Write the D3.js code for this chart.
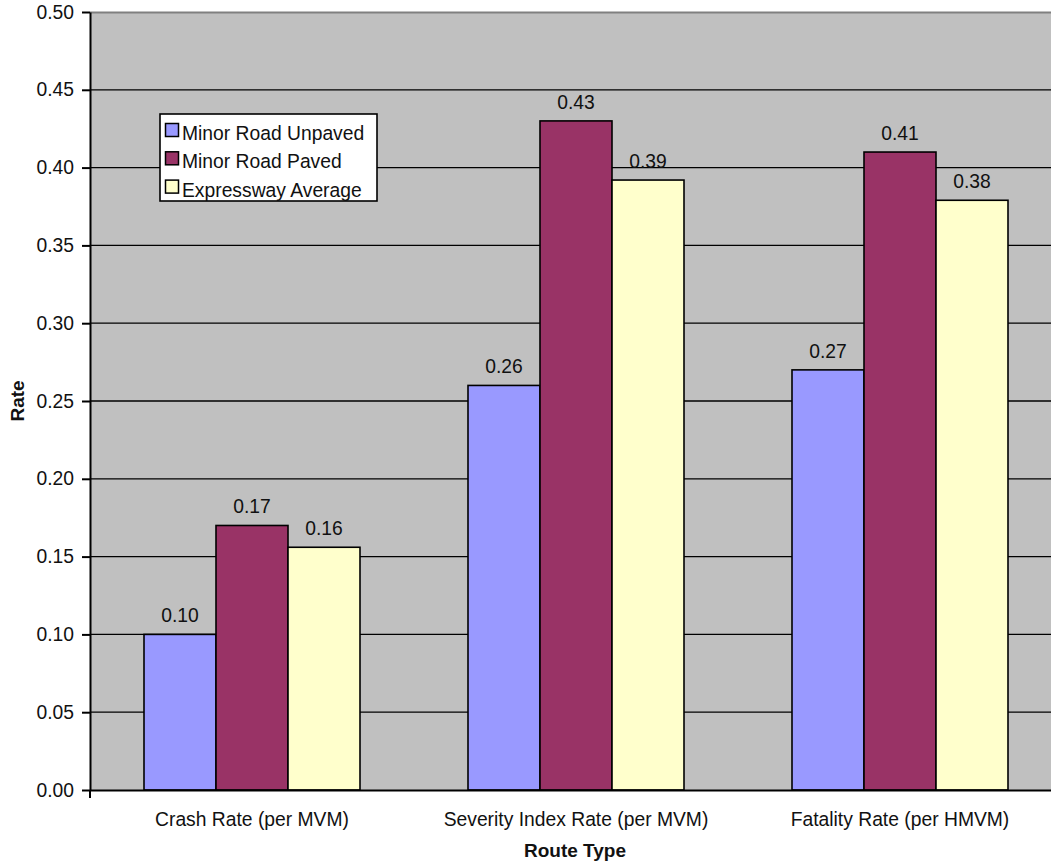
<!DOCTYPE html>
<html><head><meta charset="utf-8">
<script src="https://cdn.jsdelivr.net/npm/d3@7/dist/d3.min.js"></script>
<style>body{margin:0;background:#fff;} svg{display:block;font-family:Arial,"Liberation Sans",sans-serif;}</style>
</head><body>
<script>
const categories = ["Crash Rate (per MVM)", "Severity Index Rate (per MVM)", "Fatality Rate (per HMVM)"];
const seriesNames = ["Minor Road Unpaved", "Minor Road Paved", "Expressway Average"];
const unpaved = [0.10, 0.26, 0.27];
const paved = [0.17, 0.43, 0.41];
const expressway = [0.156, 0.392, 0.379];
const yTicks = [0, 0.05, 0.10, 0.15, 0.20, 0.25, 0.30, 0.35, 0.40, 0.45, 0.50];
const colors = ["#9999FF", "#993366", "#FFFFCC"];
const seriesValues = [unpaved, paved, expressway];

const FONT = "Arial, 'Liberation Sans', sans-serif";
const FS = 19.3;
const W = 1051, H = 865;
const m = {left: 90, top: 12, right: -11, bottom: 75};
const svg = d3.select("body").append("svg").attr("width", W).attr("height", H);
const pw = W - m.left - m.right, ph = H - m.top - m.bottom;
const g = svg.append("g").attr("transform", `translate(${m.left},${m.top})`);

const x0 = d3.scaleBand().domain(categories).range([0, pw]).paddingInner(1/3).paddingOuter(1/6);
const x1 = d3.scaleBand().domain(seriesNames).range([0, x0.bandwidth()]);
const y = d3.scaleLinear().domain([0, 0.5]).range([ph, 0]);

g.append("rect").attr("width", pw).attr("height", ph).attr("fill", "#C0C0C0");
g.append("line").attr("x1", 0).attr("x2", pw).attr("y1", 0.5).attr("y2", 0.5).attr("stroke", "#808080").attr("stroke-width", 2);

g.selectAll(".grid").data(yTicks.filter(t => t > 0 && t < 0.5)).join("line")
  .attr("x1", 0).attr("x2", pw).attr("y1", d => y(d)).attr("y2", d => y(d))
  .attr("stroke", "#000").attr("stroke-width", 1.3);

const data = [];
categories.forEach((c, i) => seriesNames.forEach((s, j) => data.push({c, s, j, v: seriesValues[j][i]})));

g.selectAll(".bar").data(data).join("rect")
  .attr("x", d => x0(d.c) + x1(d.s)).attr("width", x1.bandwidth())
  .attr("y", d => y(d.v)).attr("height", d => ph - y(d.v))
  .attr("fill", d => colors[d.j]).attr("stroke", "#000").attr("stroke-width", 1.6);

g.selectAll(".lbl").data(data).join("text")
  .attr("x", d => x0(d.c) + x1(d.s) + x1.bandwidth()/2).attr("y", d => y(d.v) - 12)
  .attr("text-anchor", "middle").attr("font-size", FS).attr("fill", "#111")
  .text(d => d3.format(".2f")(d.v));

const yAxis = g.append("g").call(d3.axisLeft(y).tickValues(yTicks).tickFormat(d3.format(".2f")).tickSize(8).tickSizeOuter(0));
yAxis.select(".domain").attr("stroke", "#000").attr("stroke-width", 2);
yAxis.selectAll(".tick line").attr("stroke", "#000").attr("stroke-width", 2);
yAxis.selectAll("text").attr("font-size", FS).attr("fill", "#111").attr("x", -16).attr("font-family", FONT);

const xAxis = g.append("g").attr("transform", `translate(0,${ph})`).call(d3.axisBottom(x0).tickSize(0).tickSizeOuter(0));
xAxis.select(".domain").attr("stroke", "#000").attr("stroke-width", 2);
xAxis.selectAll("text").attr("font-size", FS).attr("fill", "#111").attr("dy", 0).attr("y", 36).attr("font-family", FONT);
g.append("line").attr("x1", 0).attr("x2", 0).attr("y1", ph).attr("y2", ph + 8).attr("stroke", "#000").attr("stroke-width", 2);

svg.append("text").attr("transform", "translate(24,401) rotate(-90)").attr("text-anchor", "middle")
  .attr("font-size", 19).attr("font-weight", "bold").attr("fill", "#111").text("Rate");
svg.append("text").attr("x", 575).attr("y", 857).attr("text-anchor", "middle")
  .attr("font-size", 19).attr("font-weight", "bold").attr("fill", "#111").text("Route Type");

const lg = svg.append("g").attr("transform", "translate(160,114)");
lg.append("rect").attr("width", 217).attr("height", 87).attr("fill", "#fff").attr("stroke", "#000").attr("stroke-width", 1.6);
seriesNames.forEach((s, i) => {
  const yy = 26 + i * 28.3;
  lg.append("rect").attr("x", 5.5).attr("y", yy - 16.5).attr("width", 13).attr("height", 13)
    .attr("fill", colors[i]).attr("stroke", "#000").attr("stroke-width", 1.5);
  lg.append("text").attr("x", 22).attr("y", yy).attr("font-size", FS).attr("fill", "#111").text(s);
});
</script>
</body></html>
